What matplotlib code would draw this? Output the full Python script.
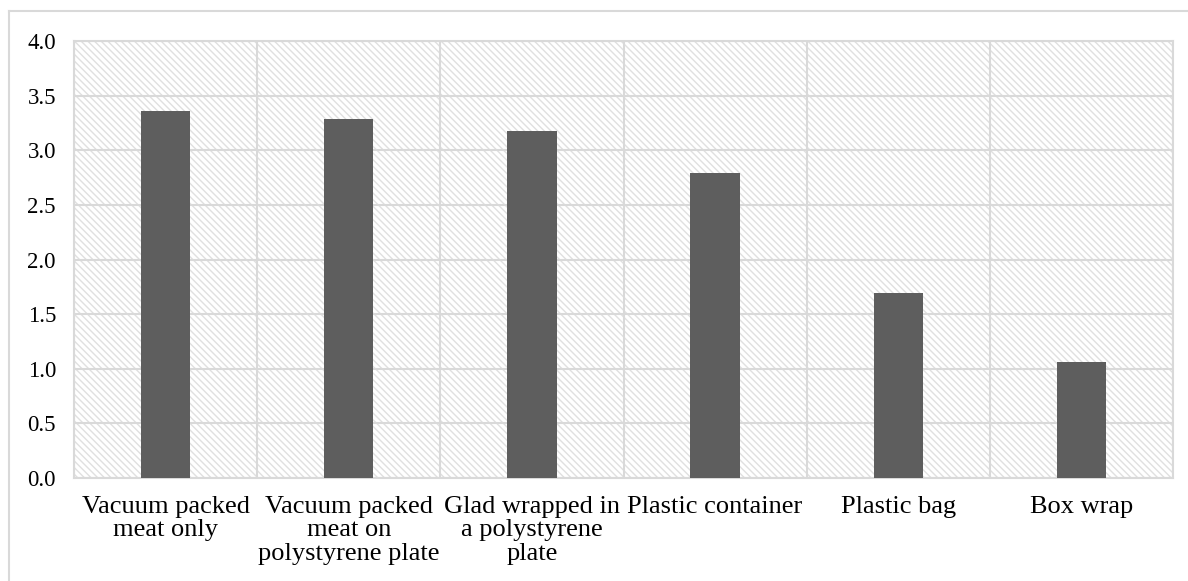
import matplotlib
matplotlib.use("Agg")
import matplotlib.pyplot as plt
from matplotlib.patches import Rectangle
from matplotlib.lines import Line2D
import numpy as np

categories = [
    "Vacuum packed\nmeat only",
    "Vacuum packed\nmeat on\npolystyrene plate",
    "Glad wrapped in\na polystyrene\nplate",
    "Plastic container",
    "Plastic bag",
    "Box wrap",
]
values = [3.36, 3.29, 3.18, 2.79, 1.69, 1.06]
yticks = [0.0, 0.5, 1.0, 1.5, 2.0, 2.5, 3.0, 3.5, 4.0]

plt.rcParams["font.family"] = ["Liberation Serif", "DejaVu Serif"]
plt.rcParams["hatch.linewidth"] = 1.0

W, H = 1188, 581
fig = plt.figure(figsize=(W / 100, H / 100), dpi=100)
ax = fig.add_axes([74 / W, 1 - 478 / H, (1173 - 74) / W, (478 - 41) / H])

x = np.arange(len(categories))
n = len(categories)
ax.set_xlim(-0.5, n - 0.5)
ax.set_ylim(0, 4.0)

# hatched plot-area background
ax.add_patch(Rectangle((0, 0), 1, 1, transform=ax.transAxes, facecolor="white",
                       edgecolor="#e0e0e0", hatch="\\\\\\\\\\", linewidth=0, zorder=0))

# grid: horizontal at ticks, vertical at category boundaries
for y in yticks:
    ax.axhline(y, color="#d9d9d9", lw=1.5, zorder=1)
for b in np.arange(-0.5, n, 1.0):
    ax.axvline(b, color="#d9d9d9", lw=1.5, zorder=1)

ax.bar(x, values, width=0.27, color="#5e5e5e", zorder=3)

ax.set_yticks(yticks)
ax.set_yticklabels([f"{v:.1f}" for v in yticks], fontsize=16.5)
ax.set_xticks(x)
ax.set_xticklabels(categories, fontsize=19, linespacing=1.08, va="top")
ax.tick_params(axis="both", length=0)
ax.tick_params(axis="y", pad=13)
ax.tick_params(axis="x", pad=13)
for s in ax.spines.values():
    s.set_color("#d9d9d9")
    s.set_linewidth(1.5)

# outer chart frame
fig.add_artist(Line2D([9 / W, 9 / W], [0, 1 - 11 / H], transform=fig.transFigure,
                      color="#d9d9d9", lw=1.5))
fig.add_artist(Line2D([9 / W, 1], [1 - 11 / H, 1 - 11 / H], transform=fig.transFigure,
                      color="#d9d9d9", lw=1.5))

fig.savefig("out.png", dpi=100)
